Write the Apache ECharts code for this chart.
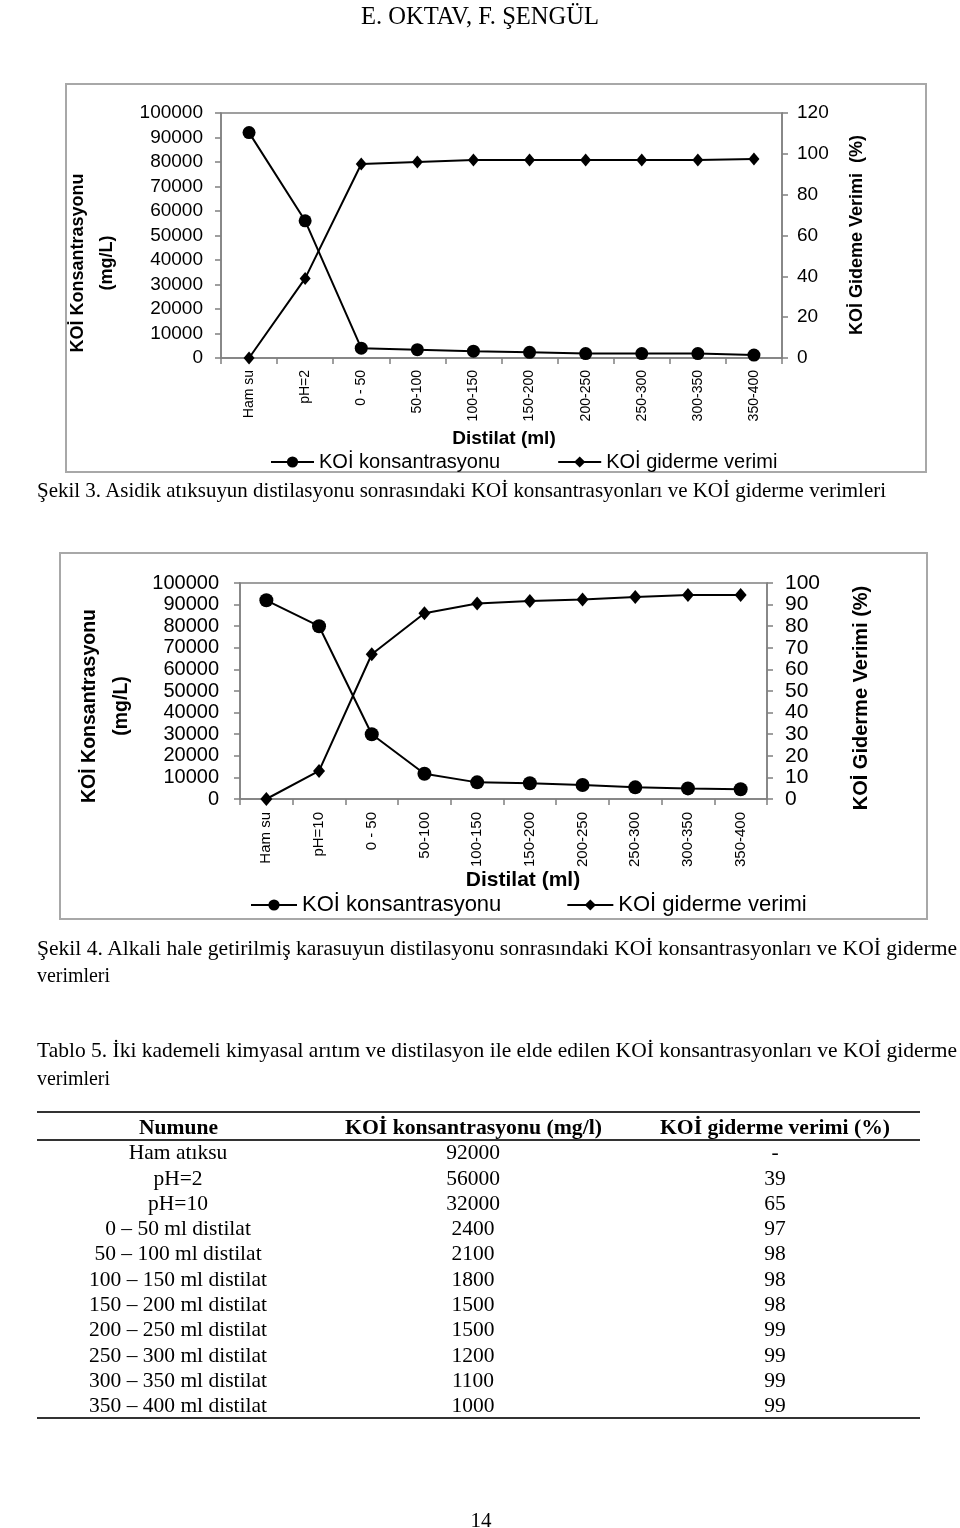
<!DOCTYPE html>
<html><head><meta charset="utf-8">
<script src="https://cdn.jsdelivr.net/npm/echarts@6/dist/echarts.min.js"></script>
<style>
html,body{margin:0;padding:0;background:#fff;}
#page{position:relative;width:960px;height:1528px;overflow:hidden;background:#fff;}
#chart{position:absolute;left:0;top:0;width:960px;height:1528px;}
.t{position:absolute;white-space:nowrap;font-family:"Liberation Serif","Times New Roman",serif;color:#000;transform-origin:0 50%;line-height:1;z-index:2;}
.rule{position:absolute;background:#333;z-index:2;}
</style></head><body><div id="page"><div id="chart"></div></div>
<script>
// ---------------- data ----------------
const categories1 = ['Ham su','pH=2','0 - 50','50-100','100-150','150-200','200-250','250-300','300-350','350-400'];
const categories2 = ['Ham su','pH=10','0 - 50','50-100','100-150','150-200','200-250','250-300','300-350','350-400'];
const conc1 = [92000, 56000, 4000, 3400, 2800, 2300, 1800, 1800, 1800, 1200];
const eff1  = [0, 39, 95, 96, 97, 97, 97, 97, 97, 97.5];
const conc2 = [92000, 80000, 30000, 11700, 7700, 7300, 6500, 5400, 4900, 4500];
const eff2  = [0, 13, 67, 86, 90.5, 91.7, 92.4, 93.5, 94.4, 94.4];
const seriesNames = ['KOİ konsantrasyonu', 'KOİ giderme verimi'];

const tableHeader = ['Numune', 'KOİ konsantrasyonu (mg/l)', 'KOİ giderme verimi (%)'];
const tableSamples = ['Ham atıksu','pH=2','pH=10','0 – 50 ml distilat','50 – 100 ml distilat','100 – 150 ml distilat','150 – 200 ml distilat','200 – 250 ml distilat','250 – 300 ml distilat','300 – 350 ml distilat','350 – 400 ml distilat'];
const tableConc = ['92000','56000','32000','2400','2100','1800','1500','1500','1200','1100','1000'];
const tableEff = ['-','39','65','97','98','98','98','99','99','99','99'];

// ---------------- chart ----------------
const FONT = '"Liberation Sans", Arial, sans-serif';
const GREY = '#808080';
const chart = echarts.init(document.getElementById('chart'), null, {renderer:'canvas'});

function xAx(grid, data, fs, margin){
  return {gridIndex:grid, type:'category', data:data, boundaryGap:true,
    axisLine:{show:true, lineStyle:{color:GREY, width:1.5}},
    axisTick:{show:true, length:6, lineStyle:{color:GREY, width:1.5}},
    axisLabel:{rotate:90, interval:0, fontSize:fs, margin:margin, color:'#000', fontFamily:FONT},
    splitLine:{show:false}};
}
function yAx(grid, pos, max, interval, fs, margin){
  return {gridIndex:grid, type:'value', position:pos, min:0, max:max, interval:interval,
    axisLine:{show:true, lineStyle:{color:GREY, width:1.5}},
    axisTick:{show:true, length:6, lineStyle:{color:GREY, width:1.5}},
    axisLabel:{fontSize:fs, margin:margin, color:'#000', fontFamily:FONT, formatter:function(v){return String(v);}},
    splitLine:{show:false}};
}
function lineS(name, xi, yi, data, sym, size){
  return {name:name, type:'line', xAxisIndex:xi, yAxisIndex:yi, data:data,
    symbol:sym, symbolSize:size, showSymbol:true,
    itemStyle:{color:'#000'}, lineStyle:{color:'#000', width:2}, z:5};
}
function vtext(x, y, text, fs){
  return {type:'text', x:x, y:y, rotation:Math.PI/2, silent:true,
    style:{text:text, fill:'#000', fontSize:fs, fontWeight:'bold', fontFamily:FONT, align:'center', verticalAlign:'middle'}};
}
function htext(x, y, text, fs){
  return {type:'text', x:x, y:y, silent:true,
    style:{text:text, fill:'#000', fontSize:fs, fontWeight:'bold', fontFamily:FONT, align:'center', verticalAlign:'middle'}};
}

const option = {
  animation:false,
  backgroundColor:'#fff',
  grid:[
    {left:221, top:113, width:561, height:245, show:true, borderColor:GREY, borderWidth:1.5, backgroundColor:'transparent'},
    {left:240, top:583, width:527, height:216, show:true, borderColor:GREY, borderWidth:1.5, backgroundColor:'transparent'}
  ],
  xAxis:[ xAx(0, categories1, 14, 12), xAx(1, categories2, 15, 13) ],
  yAxis:[
    yAx(0, 'left', 100000, 10000, 19, 18),
    yAx(0, 'right', 120, 20, 19, 15),
    yAx(1, 'left', 100000, 10000, 20, 21),
    yAx(1, 'right', 100, 10, 21, 18)
  ],
  legend:[
    {left:270, top:452, padding:0, itemWidth:43, itemHeight:14, itemGap:57, data:seriesNames,
     textStyle:{fontSize:20, color:'#000', fontFamily:FONT}},
    {left:250, top:894, padding:0, itemWidth:46, itemHeight:14, itemGap:65, data:seriesNames,
     textStyle:{fontSize:22, color:'#000', fontFamily:FONT}}
  ],
  series:[
    lineS(seriesNames[0], 0, 0, conc1, 'circle', 13),
    lineS(seriesNames[1], 0, 1, eff1, 'diamond', [11,13]),
    lineS(seriesNames[0], 1, 2, conc2, 'circle', 14),
    lineS(seriesNames[1], 1, 3, eff2, 'diamond', [12,14])
  ],
  graphic:[
    {type:'rect', silent:true, z:-1, shape:{x:66, y:84, width:860, height:388}, style:{fill:'none', stroke:'#a8a8a8', lineWidth:2}},
    {type:'rect', silent:true, z:-1, shape:{x:60, y:553, width:867, height:366}, style:{fill:'none', stroke:'#a8a8a8', lineWidth:2}},
    vtext(78, 263, 'KOİ Konsantrasyonu', 18),
    vtext(107, 263, '(mg/L)', 18),
    vtext(857, 235, 'KOİ Gideme Verimi  (%)', 18),
    htext(504, 439, 'Distilat (ml)', 19),
    vtext(90, 706, 'KOİ Konsantrasyonu', 19.5),
    vtext(122, 706, '(mg/L)', 19.5),
    vtext(861, 698, 'KOİ Giderme Verimi (%)', 20),
    htext(523, 880, 'Distilat (ml)', 21)
  ]
};
chart.setOption(option);

// ---------------- page text ----------------
const page = document.getElementById('page');
function addText(str, o){
  const el = document.createElement('div');
  el.className = 't';
  el.textContent = str;
  el.style.fontSize = o.size + 'px';
  if (o.bold) el.style.fontWeight = 'bold';
  page.appendChild(el);
  const r = el.getBoundingClientRect();
  const s = o.w ? o.w / r.width : 1;
  const left = o.align === 'center' ? o.x - r.width * s / 2 : o.x;
  el.style.left = left + 'px';
  el.style.top = (o.y - r.height / 2) + 'px';
  if (s !== 1) el.style.transform = 'scaleX(' + s + ')';
}
function rule(x, y, w, h){
  const el = document.createElement('div');
  el.className = 'rule';
  el.style.left = x + 'px'; el.style.top = y + 'px';
  el.style.width = w + 'px'; el.style.height = h + 'px';
  page.appendChild(el);
}

addText('E. OKTAV, F. ŞENGÜL', {x:480, y:15, size:25, w:238, align:'center'});
addText('Şekil 3. Asidik atıksuyun distilasyonu sonrasındaki KOİ konsantrasyonları ve KOİ giderme verimleri', {x:37, y:490, size:21, w:849});
addText('Şekil 4. Alkali hale getirilmiş karasuyun distilasyonu sonrasındaki KOİ konsantrasyonları ve KOİ giderme', {x:37, y:948, size:21, w:920});
addText('verimleri', {x:37, y:975, size:21, w:73});
addText('Tablo 5. İki kademeli kimyasal arıtım ve distilasyon ile elde edilen KOİ konsantrasyonları ve KOİ giderme', {x:37, y:1050, size:21, w:920});
addText('verimleri', {x:37, y:1078, size:21, w:73});

const colX = [178, 473, 775];
const headW = [79, 257, 230];
rule(37, 1111, 883, 2);
tableHeader.forEach((h, i) => addText(h, {x:colX[i], y:1127, size:21, bold:true, w:headW[i], align:'center'}));
rule(37, 1139, 883, 2);
const rowY0 = 1153, rowDY = 25.3;
tableSamples.forEach((s, i) => {
  const y = rowY0 + i * rowDY;
  addText(s, {x:colX[0], y:y, size:21.5, align:'center'});
  addText(tableConc[i], {x:colX[1], y:y, size:21.5, align:'center'});
  addText(tableEff[i], {x:colX[2], y:y, size:21.5, align:'center'});
});
rule(37, 1417, 883, 2);
addText('14', {x:481, y:1520, size:21, align:'center'});
</script>
</body></html>
